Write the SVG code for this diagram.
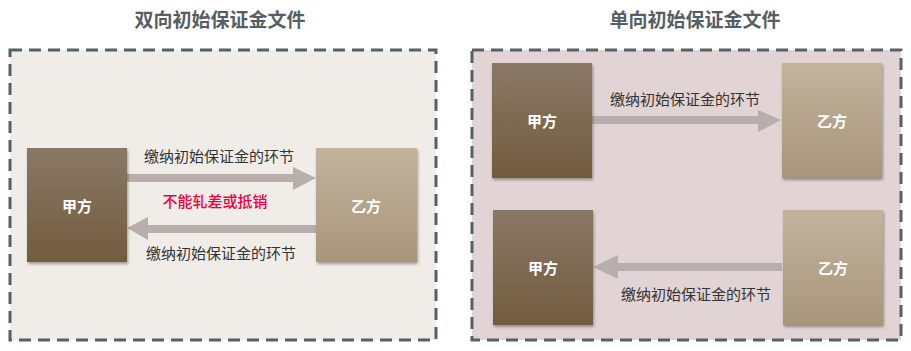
<svg xmlns="http://www.w3.org/2000/svg" width="911" height="351" viewBox="0 0 911 351">
<defs>
<linearGradient id="gA" x1="0" y1="0" x2="0" y2="1"><stop offset="0" stop-color="#8a7866"/><stop offset="1" stop-color="#725c3e"/></linearGradient>
<linearGradient id="gB" x1="0" y1="0" x2="0" y2="1"><stop offset="0" stop-color="#c3b39d"/><stop offset="1" stop-color="#a8967b"/></linearGradient>
<filter id="sh" x="-10%" y="-10%" width="125%" height="125%"><feDropShadow dx="1" dy="2" stdDeviation="1.5" flood-color="#000" flood-opacity="0.35"/></filter>
</defs>
<style>
.title{font-family:"Noto Sans CJK SC","Noto Sans",sans-serif;font-size:19px;font-weight:bold;fill:#565e64;text-anchor:middle}
.panel{stroke:#566067;stroke-width:3;stroke-dasharray:12 7}
.lbl{font-family:"Noto Sans CJK SC","Noto Sans",sans-serif;font-size:15px;fill:#333;text-anchor:middle;dominant-baseline:central}
.red{font-family:"Noto Sans CJK SC","Noto Sans",sans-serif;font-size:15px;font-weight:500;fill:#f0003c;text-anchor:middle;dominant-baseline:central}
.nt{font-family:"Noto Sans CJK SC","Noto Sans",sans-serif;font-size:15px;font-weight:bold;fill:#fff;text-anchor:middle;dominant-baseline:central}
.arr{fill:#b8aeab}
</style>
<rect width="911" height="351" fill="#fff"/>
<text class="title" x="220" y="27">双向初始保证金文件</text>
<text class="title" x="695" y="27">单向初始保证金文件</text>
<rect class="panel" x="10" y="50" width="426" height="290" fill="#f0ede9"/>
<rect class="panel" x="472" y="50" width="429" height="290" fill="#e2d4d4"/>
<g id="connectors">
<polygon class="arr" points="127,174 293,174 293,167 316,178 293,190 293,182 127,182"/>
<polygon class="arr" points="316,225 148,225 148,217 127,228 148,240 148,233 316,233"/>
<polygon class="arr" points="592,116 758,116 758,110 781,120 758,132 758,124 592,124"/>
<polygon class="arr" points="782,263 618,263 618,255 593,267 618,279 618,271 782,271"/>
<text class="lbl" x="219" y="155">缴纳初始保证金的环节</text>
<text class="red" x="215" y="200">不能轧差或抵销</text>
<text class="lbl" x="221" y="252">缴纳初始保证金的环节</text>
<text class="lbl" x="685" y="98">缴纳初始保证金的环节</text>
<text class="lbl" x="696" y="293">缴纳初始保证金的环节</text>
</g>
<g id="nodeA1"><rect x="27" y="148" width="100" height="114" fill="url(#gA)" filter="url(#sh)"/><text class="nt" x="77" y="205">甲方</text></g>
<g id="nodeB1"><rect x="316" y="148" width="101" height="114" fill="url(#gB)" filter="url(#sh)"/><text class="nt" x="366" y="205">乙方</text></g>
<g id="nodeA2"><rect x="492" y="63" width="100" height="115" fill="url(#gA)" filter="url(#sh)"/><text class="nt" x="542" y="120">甲方</text></g>
<g id="nodeB2"><rect x="782" y="63" width="100" height="115" fill="url(#gB)" filter="url(#sh)"/><text class="nt" x="832" y="120">乙方</text></g>
<g id="nodeA3"><rect x="493" y="210" width="100" height="115" fill="url(#gA)" filter="url(#sh)"/><text class="nt" x="543" y="267">甲方</text></g>
<g id="nodeB3"><rect x="783" y="210" width="100" height="115" fill="url(#gB)" filter="url(#sh)"/><text class="nt" x="833" y="267">乙方</text></g>
</svg>
